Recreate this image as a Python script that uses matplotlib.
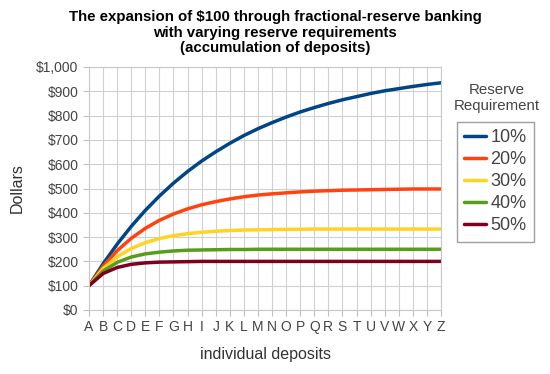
import matplotlib.pyplot as plt
from matplotlib.ticker import FuncFormatter

plt.rcParams['font.family'] = ['Liberation Sans', 'DejaVu Sans']

letters = list("ABCDEFGHIJKLMNOPQRSTUVWXYZ")
labels = ["10%", "20%", "30%", "40%", "50%"]
colors = ["#004586", "#ff420e", "#ffd320", "#579d1c", "#7e0021"]

r10 = [100, 190, 271, 344, 410, 469, 522, 570, 613, 651, 686, 718, 746,
       771, 794, 815, 833, 850, 865, 878, 891, 902, 911, 920, 928, 935]
r20 = [100, 180, 244, 295, 336, 369, 395, 416, 433, 446, 457, 466, 473,
       478, 482, 486, 489, 491, 493, 494, 495, 496, 497, 498, 498, 498]
r30 = [100, 170, 219, 253, 277, 294, 306, 314, 320, 324, 327, 329, 330,
       331, 332, 332, 333, 333, 333, 333, 333, 333, 333, 333, 333, 333]
r40 = [100, 160, 196, 218, 231, 238, 243, 246, 247, 248, 249, 249, 250,
       250, 250, 250, 250, 250, 250, 250, 250, 250, 250, 250, 250, 250]
r50 = [100, 150, 175, 188, 194, 197, 198, 199, 200, 200, 200, 200, 200,
       200, 200, 200, 200, 200, 200, 200, 200, 200, 200, 200, 200, 200]
series = [r10, r20, r30, r40, r50]

fig = plt.figure(figsize=(5.5, 3.74), dpi=100)
ax = fig.add_axes([89/550, 1 - 310/374, 352/550, 243/374])

x = range(len(letters))
lines = []
for vals, lab, col in zip(series, labels, colors):
    ln, = ax.plot(x, vals, color=col, lw=2.5, label=lab, solid_capstyle='round')
    lines.append(ln)

ax.set_xlim(0, len(letters) - 1)
ax.set_ylim(0, 1000)
ax.set_xticks(list(x))
ax.set_xticklabels(letters)
ax.set_yticks(range(0, 1001, 100))
ax.yaxis.set_major_formatter(FuncFormatter(lambda v, p: "${:,.0f}".format(v)))
ax.grid(True, color="#d0d0d0", lw=0.8)
ax.set_axisbelow(True)
for s in ax.spines.values():
    s.set_color("#c8c8c8")
    s.set_linewidth(0.8)
ax.tick_params(colors="#c0c0c0", labelcolor="#444444", labelsize=10, length=4, width=0.8)

ax.set_ylabel("Dollars", fontsize=11.5, color="#333333", labelpad=8)
ax.set_xlabel("individual deposits", fontsize=11.5, color="#333333", labelpad=9)

fig.suptitle("The expansion of $100 through fractional-reserve banking\n"
             "with varying reserve requirements\n(accumulation of deposits)",
             fontsize=10.8, fontweight='bold', y=1 - 10/374, linespacing=1.14)

fig.text(497/550, 1 - 98/374, "Reserve\nRequirement", ha='center', va='center',
         fontsize=10.8, color="#444444", linespacing=1.1)
leg = fig.legend(handles=lines, loc='upper left', bbox_to_anchor=(457/550, 1 - 122/374),
                 borderaxespad=0, frameon=True, fancybox=False, fontsize=13,
                 handlelength=1.2, handletextpad=0.25, labelspacing=0.28,
                 borderpad=0.4, labelcolor="#444444")
leg.get_frame().set_edgecolor("#888888")
leg.get_frame().set_linewidth(1)

fig.savefig("out.png", dpi=100)
